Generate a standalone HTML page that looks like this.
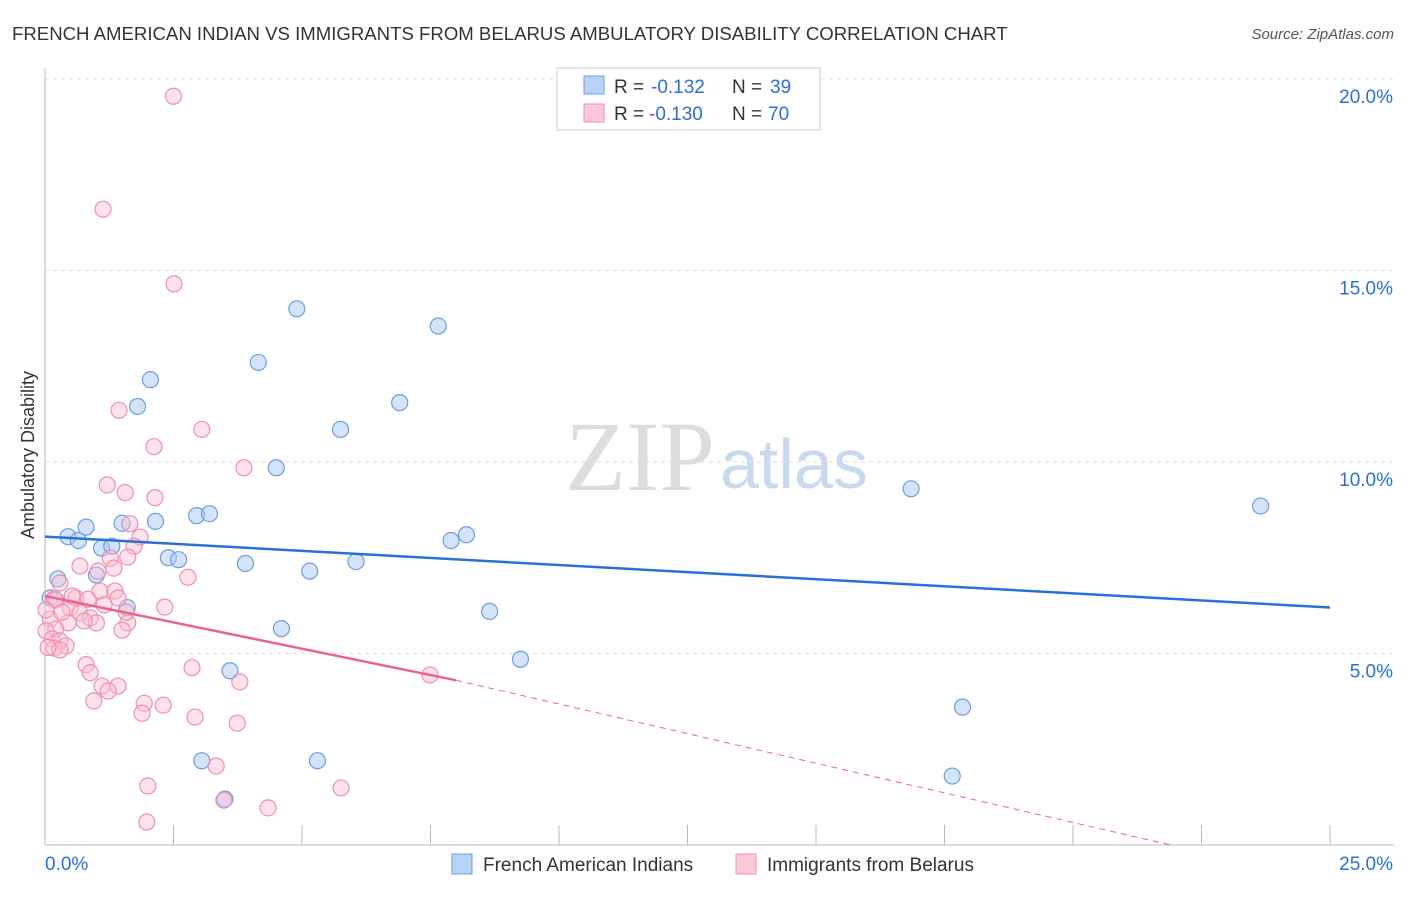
<!DOCTYPE html>
<html><head><meta charset="utf-8"><style>
body{margin:0;background:#fff;font-family:"Liberation Sans",sans-serif}
</style></head><body>
<svg id="c" width="1406" height="892" font-family="Liberation Sans, sans-serif">
<text x="12" y="40" font-size="18.6" fill="#333">FRENCH AMERICAN INDIAN VS IMMIGRANTS FROM BELARUS AMBULATORY DISABILITY CORRELATION CHART</text>
<text x="1394" y="39" font-size="15" fill="#555" text-anchor="end" font-style="italic">Source: ZipAtlas.com</text>
<text x="715" y="490" font-size="100" fill="#ddd" text-anchor="end" style="font-family:'Liberation Serif',serif">ZIP</text>
<text x="720" y="488" font-size="70" fill="#c9d9f0">atlas</text>
<text transform="translate(34,455) rotate(-90)" font-size="18" fill="#333" text-anchor="middle">Ambulatory Disability</text>
<g id="grid"></g><g id="marks"></g>
<g>
<rect x="557" y="68" width="263" height="62" fill="#fff" stroke="#ccc"/>
<rect x="584" y="76" width="20" height="18" fill="#b8d3f5" stroke="#6a9fe0"/>
<rect x="584" y="104" width="20" height="18" fill="#fcc8d8" stroke="#ec8fb0"/>
<text x="614" y="93" font-size="19" fill="#333">R = </text><text x="651" y="93" font-size="19" fill="#2a6fd6">-0.132</text>
<text x="732" y="93" font-size="19" fill="#333">N = </text><text x="770" y="93" font-size="19" fill="#2a6fd6">39</text>
<text x="614" y="120" font-size="19" fill="#333">R = </text><text x="649" y="120" font-size="19" fill="#2a6fd6">-0.130</text>
<text x="732" y="120" font-size="19" fill="#333">N = </text><text x="768" y="120" font-size="19" fill="#2a6fd6">70</text>
</g>
<g>
<rect x="452" y="854" width="20" height="20" fill="#b8d3f5" stroke="#6a9fe0"/>
<text x="483" y="871" font-size="19" fill="#333">French American Indians</text>
<rect x="736" y="854" width="20" height="20" fill="#fcc8d8" stroke="#ec8fb0"/>
<text x="767" y="871" font-size="19" fill="#333">Immigrants from Belarus</text>
</g>
</svg>
<script>
const blueX=[0.1,0.25,0.45,0.65,0.8,1.0,1.1,1.3,1.5,1.6,1.8,2.05,2.15,2.4,2.6,2.95,3.05,3.2,3.5,3.6,3.9,4.15,4.5,4.6,4.9,5.15,5.3,5.75,6.05,6.9,7.65,7.9,8.2,8.65,9.25,16.85,17.65,17.85,23.65];
const blueY=[6.45,6.95,8.05,7.95,8.3,7.05,7.75,7.8,8.4,6.2,11.45,12.15,8.45,7.5,7.45,8.6,2.2,8.65,1.2,4.55,7.35,12.6,9.85,5.65,14.0,7.15,2.2,10.85,7.4,11.55,13.55,7.95,8.1,6.1,4.85,9.3,1.8,3.6,8.85];
const pinkX=[2.5,1.13,2.51,1.44,3.05,2.12,3.87,1.21,1.56,2.14,1.65,1.85,1.73,1.27,0.68,1.34,2.78,1.61,0.29,1.03,0.6,0.84,1.07,1.36,1.42,2.33,0.18,0.49,0.68,0.88,1.0,1.61,1.5,0.45,0.1,0.21,0.02,0.14,0.29,0.41,0.18,0.29,0.06,0.8,0.88,2.86,3.79,1.11,1.42,1.23,0.95,1.93,2.3,1.89,2.92,3.74,7.49,3.33,2.0,3.48,4.34,5.76,1.98,0.21,0.33,0.02,0.53,0.76,1.58,1.15];
const pinkY=[19.55,16.6,14.65,11.35,10.85,10.4,9.85,9.4,9.2,9.07,8.39,8.04,7.8,7.49,7.28,7.23,6.99,7.52,6.84,7.15,6.45,6.42,6.63,6.63,6.45,6.21,6.42,6.19,6.06,5.93,5.8,5.8,5.61,5.8,5.9,5.64,5.59,5.38,5.33,5.2,5.14,5.09,5.16,4.71,4.5,4.63,4.26,4.15,4.15,4.02,3.76,3.7,3.65,3.44,3.34,3.18,4.44,2.06,1.54,1.17,0.97,1.49,0.6,6.4,6.08,6.14,6.5,5.85,6.08,6.27];
const xTicks=[0,2.5,5,7.5,10,12.5,15,17.5,20,22.5,25];
const yTicks=[5,10,15,20];
const blueTrend=[8.05,6.2];
const pinkTrend=[6.5,4.3];
const pinkSolidEnd=8.0;
const pinkZeroX=21.9;
const X=v=>45+v*51.4, Y=v=>845-v*38.3;
const NS="http://www.w3.org/2000/svg";
function mk(p,t,a){const e=document.createElementNS(NS,t);for(const k in a)e.setAttribute(k,a[k]);p.appendChild(e);return e;}
const g=document.getElementById('grid'),m=document.getElementById('marks');
yTicks.forEach(v=>{const l=mk(g,'line',{x1:45,x2:1394,y1:Y(v),y2:Y(v),stroke:'#ddd','stroke-dasharray':'4,4'});


const t=mk(g,'text',{x:1393,y:Y(v)+24,'font-size':19,fill:'#2a6fd6','text-anchor':'end'});t.textContent=v.toFixed(1)+'%';

});
mk(g,'line',{x1:45,x2:45,y1:68,y2:845,stroke:'#bbb'});
mk(g,'line',{x1:45,x2:1394,y1:845,y2:845,stroke:'#bbb'});
xTicks.forEach(v=>{const l=mk(g,'line',{x1:X(v),x2:X(v),y1:825,y2:845,stroke:'#bbb'});

});
[[0,'start',45,'0.0%'],[25,'end',1393,'25.0%']].forEach(a=>{const t=mk(g,'text',{x:a[2],y:870,'font-size':19,fill:'#2a6fd6','text-anchor':a[1]});t.textContent=a[3];

});
blueX.forEach((x,i)=>{const c=mk(m,'circle',{cx:X(x),cy:Y(blueY[i]),r:8,fill:'rgba(170,200,240,0.5)',stroke:'#6a9fe0','stroke-width':1.2});

});
pinkX.forEach((x,i)=>{const c=mk(m,'circle',{cx:X(x),cy:Y(pinkY[i]),r:8,fill:'rgba(250,190,210,0.45)',stroke:'#ec8fb0','stroke-width':1.2});

});
const bl=mk(m,'line',{x1:X(0),y1:Y(blueTrend[0]),x2:X(25),y2:Y(blueTrend[1]),stroke:'#2a6fd6','stroke-width':2.5});


const pl=mk(m,'line',{x1:X(0),y1:Y(pinkTrend[0]),x2:X(pinkSolidEnd),y2:Y(pinkTrend[1]),stroke:'#e8648f','stroke-width':2.5});


const pd=mk(m,'line',{x1:X(pinkSolidEnd),y1:Y(pinkTrend[1]),x2:X(pinkZeroX),y2:Y(0),stroke:'#e8648f','stroke-width':1,'stroke-dasharray':'6,5'});


</script>
</body></html>
